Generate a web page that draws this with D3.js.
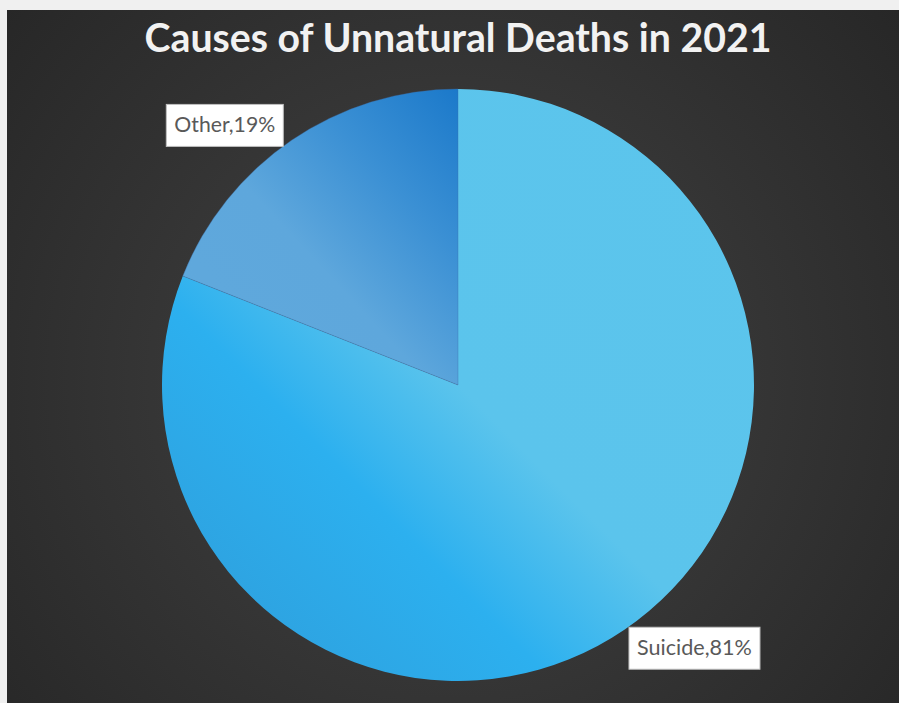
<!DOCTYPE html>
<html>
<head>
<meta charset="utf-8">
<script src="https://cdn.jsdelivr.net/npm/d3@7"></script>
<style>
  html, body { margin: 0; padding: 0; background: #f0f0f0; }
  svg { display: block; }
</style>
</head>
<body>
<svg id="chart" width="899" height="703"></svg>
<script>
// Chart data
const categories = ["Suicide", "Other"];
const shares = [81, 19];
const chartTitle = "Causes of Unnatural Deaths in 2021";

const W = 899, H = 703;
const svg = d3.select("#chart");
const defs = svg.append("defs");

// Dark panel background with a soft central glow
const bg = defs.append("radialGradient")
  .attr("id", "panelGlow")
  .attr("gradientUnits", "userSpaceOnUse")
  .attr("cx", 450).attr("cy", 380).attr("r", 640);
bg.append("stop").attr("offset", 0).attr("stop-color", "#444444");
bg.append("stop").attr("offset", 1).attr("stop-color", "#242424");

svg.append("rect")
  .attr("x", 7).attr("y", 10)
  .attr("width", W - 7).attr("height", H - 10)
  .attr("fill", "url(#panelGlow)");

// Slice fills: diagonal gradients, bottom-left to top-right of each slice
const sliceGradients = {
  Suicide: [[0, "#2f9bd8"], [0.33, "#2cb0ef"], [0.5, "#5bc4ec"], [1, "#5cc5ec"]],
  Other:   [[0, "#60a9dc"], [0.45, "#5ea7dc"], [0.72, "#3b90d4"], [1, "#1b79ca"]]
};
Object.entries(sliceGradients).forEach(([name, stops]) => {
  const g = defs.append("linearGradient")
    .attr("id", "grad-" + name)
    .attr("x1", 0).attr("y1", 1).attr("x2", 1).attr("y2", 0);
  stops.forEach(([o, c]) => g.append("stop").attr("offset", o).attr("stop-color", c));
});

const cx = 458, cy = 385, R = 296;
const data = categories.map((c, i) => ({ name: c, value: shares[i] }));

const pie = d3.pie().sort(null).value(d => d.value);
const arcs = pie(data);
const arc = d3.arc().innerRadius(0).outerRadius(R);

const g = svg.append("g").attr("transform", `translate(${cx},${cy})`);
g.selectAll("path.slice")
  .data(arcs)
  .join("path")
  .attr("class", "slice")
  .attr("d", arc)
  .attr("fill", d => `url(#grad-${d.data.name})`)
  .attr("stroke", d => d.data.name === "Other" ? "rgba(60,110,170,0.45)" : "none")
  .attr("stroke-width", 0.8);

// Title
const fontFam = "Lato, 'Open Sans', 'DejaVu Sans', sans-serif";
const title = svg.append("text")
  .attr("x", cx).attr("y", 52)
  .attr("text-anchor", "middle")
  .attr("font-family", fontFam)
  .attr("font-weight", 700)
  .attr("font-size", 36)
  .attr("fill", "#f2f2f2")
  .text(chartTitle);
// scale title to its intended width
{
  const len = title.node().getComputedTextLength();
  title.attr("font-size", 36 * 627 / len);
}

// Data labels in white boxes, placed just outside each slice
const labelFont = 19;
arcs.forEach(d => {
  const lbl = svg.append("g");
  const box = lbl.append("rect")
    .attr("fill", "#ffffff")
    .attr("stroke", "#bfbfbf")
    .attr("stroke-width", 1);
  const t = lbl.append("text")
    .attr("text-anchor", "middle")
    .attr("font-family", fontFam)
    .attr("font-size", labelFont)
    .attr("fill", "#595959")
    .text(`${d.data.name},${d.data.value}%`);
  const target = d.data.name === "Suicide" ? 115 : 101;
  const len = t.node().getComputedTextLength();
  t.attr("font-size", labelFont * target / len);
  const w = target + 16, h = 42;
  // distance grows with the box width so the box clears the rim
  const labelR = R + 12 + w * 0.35;
  const mid = (d.startAngle + d.endAngle) / 2 - 0.135;
  const lx = cx + labelR * Math.sin(mid);
  const ly = cy - labelR * Math.cos(mid);
  t.attr("x", lx).attr("y", ly + 7);
  box.attr("x", lx - w / 2).attr("y", ly - h / 2).attr("width", w).attr("height", h);
});
</script>
</body>
</html>
